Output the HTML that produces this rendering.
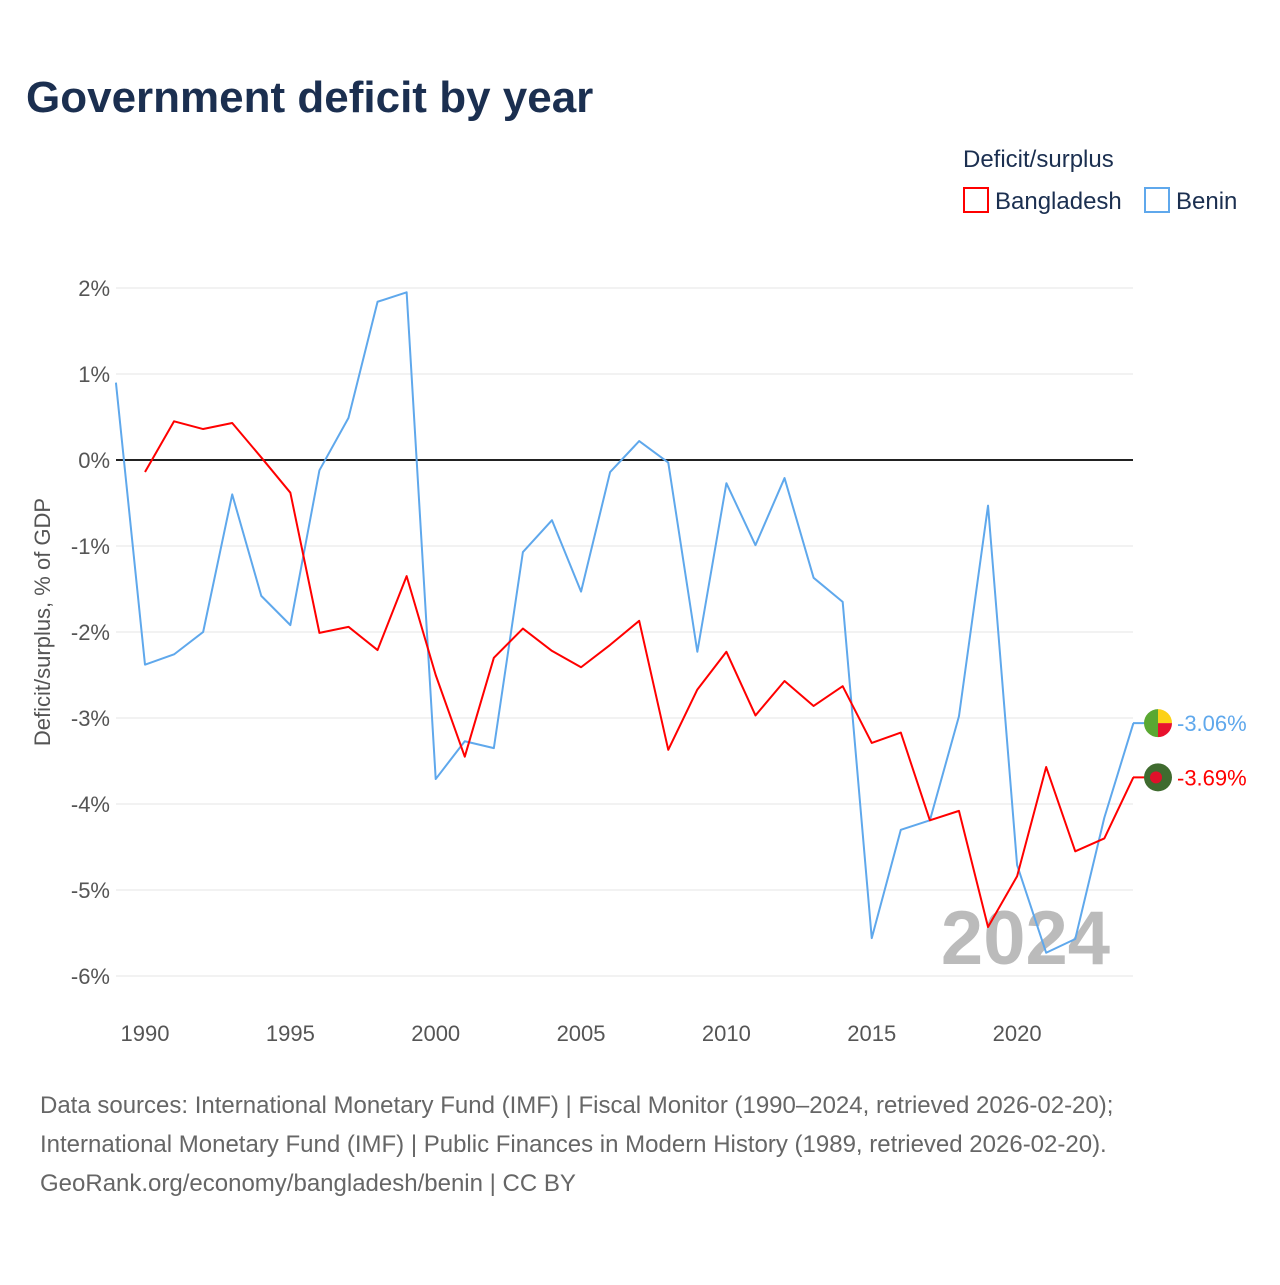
<!DOCTYPE html>
<html><head><meta charset="utf-8"><style>
body{margin:0;background:#fff;width:1280px;height:1280px;overflow:hidden;font-family:"Liberation Sans",sans-serif}
svg text{font-family:"Liberation Sans",sans-serif}
</style></head><body>
<svg id="c" width="1280" height="1280">
<text x="26" y="112" font-size="44" font-weight="bold" fill="#1b2f50">Government deficit by year</text>
<text x="963" y="167" font-size="24" fill="#1b2f50">Deficit/surplus</text>
<g><rect x="964" y="188" width="24" height="24" fill="none" stroke="#ff0000" stroke-width="2"/><text x="995" y="209" font-size="24" fill="#1b2f50">Bangladesh</text></g>
<g><rect x="1145" y="188" width="24" height="24" fill="none" stroke="#5fa8ec" stroke-width="2"/><text x="1176" y="209" font-size="24" fill="#1b2f50">Benin</text></g>
<text transform="translate(50,622) rotate(-90)" text-anchor="middle" font-size="22" fill="#555">Deficit/surplus, % of GDP</text>
<text x="1110" y="964" text-anchor="end" font-size="76" font-weight="bold" fill="#bbb">2024</text>
<g id="grid"></g><g id="lines"></g>
<text x="40" y="1113" font-size="24" fill="#666">Data sources: International Monetary Fund (IMF) | Fiscal Monitor (1990–2024, retrieved 2026-02-20);</text>
<text x="40" y="1152" font-size="24" fill="#666">International Monetary Fund (IMF) | Public Finances in Modern History (1989, retrieved 2026-02-20).</text>
<text x="40" y="1191" font-size="24" fill="#666">GeoRank.org/economy/bangladesh/benin | CC BY</text>
</svg>
<script>
const beninYears=[1989,1990,1991,1992,1993,1994,1995,1996,1997,1998,1999,2000,2001,2002,2003,2004,2005,2006,2007,2008,2009,2010,2011,2012,2013,2014,2015,2016,2017,2018,2019,2020,2021,2022,2023,2024];
const beninValues=[0.9,-2.38,-2.26,-2.0,-0.4,-1.58,-1.92,-0.12,0.49,1.84,1.95,-3.71,-3.27,-3.35,-1.07,-0.70,-1.53,-0.14,0.22,-0.03,-2.23,-0.27,-0.99,-0.21,-1.37,-1.65,-5.56,-4.30,-4.19,-2.98,-0.53,-4.71,-5.73,-5.57,-4.16,-3.06];
const bdYears=[1990,1991,1992,1993,1994,1995,1996,1997,1998,1999,2000,2001,2002,2003,2004,2005,2006,2007,2008,2009,2010,2011,2012,2013,2014,2015,2016,2017,2018,2019,2020,2021,2022,2023,2024];
const bdValues=[-0.14,0.45,0.36,0.43,0.03,-0.38,-2.01,-1.94,-2.21,-1.35,-2.5,-3.45,-2.3,-1.96,-2.22,-2.41,-2.15,-1.87,-3.37,-2.67,-2.23,-2.97,-2.57,-2.86,-2.63,-3.29,-3.17,-4.19,-4.08,-5.43,-4.84,-3.57,-4.55,-4.40,-3.69];
const yTicks=[2,1,0,-1,-2,-3,-4,-5,-6];
const xTicks=[1990,1995,2000,2005,2010,2015,2020];
const X=y=>145+(y-1990)*29.07, Y=v=>460-v*86;
const NS="http://www.w3.org/2000/svg";
function mk(t,a,p){const e=document.createElementNS(NS,t);for(const k in a)e.setAttribute(k,a[k]);p.appendChild(e);return e;}
const g=document.getElementById('grid'),L=document.getElementById('lines');
yTicks.forEach(v=>{
 const l=mk('line',{x1:116,x2:1133,y1:Y(v),y2:Y(v),stroke:v===0?'#222':'#e6e6e6','stroke-width':v===0?2:1},g);
 
 
 const t=mk('text',{x:110,y:Y(v)+8,'text-anchor':'end','font-size':22,fill:'#555'},g);
 t.textContent=v+'%';
 
 
});
xTicks.forEach(y=>{
 const t=mk('text',{x:X(y),y:1041,'text-anchor':'middle','font-size':22,fill:'#555'},g);
 t.textContent=y;
 
 
});
function line(ys,vs,col,name){
 const p=mk('polyline',{points:ys.map((y,i)=>X(y)+','+Y(vs[i])).join(' '),fill:'none',stroke:col,'stroke-width':2,'stroke-linejoin':'round'},L);
 
 
}
line(beninYears,beninValues,'#5fa8ec','benin-line');
line(bdYears,bdValues,'#ff0000','bangladesh-line');
// end labels with flags
const bv=beninValues[beninValues.length-1], dv=bdValues[bdValues.length-1];
const by=Y(bv), dy=Y(dv), fx=1158;
mk('line',{x1:1133,x2:fx,y1:by,y2:by,stroke:'#5fa8ec','stroke-width':2},L);
mk('line',{x1:1133,x2:fx,y1:dy,y2:dy,stroke:'#ff0000','stroke-width':2},L);
const bf=mk('g',{},L);


mk('path',{d:`M${fx},${by-14} A14,14 0 0 0 ${fx},${by+14} Z`,fill:'#5aa832'},bf);
mk('path',{d:`M${fx},${by-14} A14,14 0 0 1 ${fx+14},${by} L${fx},${by} Z`,fill:'#fcd116'},bf);
mk('path',{d:`M${fx},${by} L${fx+14},${by} A14,14 0 0 1 ${fx},${by+14} Z`,fill:'#e8112d'},bf);
const df=mk('g',{},L);


mk('circle',{cx:fx,cy:dy,r:14,fill:'#3f6b2f'},df);
mk('circle',{cx:fx-2,cy:dy,r:6,fill:'#e0102a'},df);
const t1=mk('text',{x:1177,y:by+8,'font-size':22,fill:'#5fa8ec'},L);
t1.textContent=bv.toFixed(2)+'%';


const t2=mk('text',{x:1177,y:dy+8,'font-size':22,fill:'#ff0000'},L);
t2.textContent=dv.toFixed(2)+'%';


</script>
</body></html>
